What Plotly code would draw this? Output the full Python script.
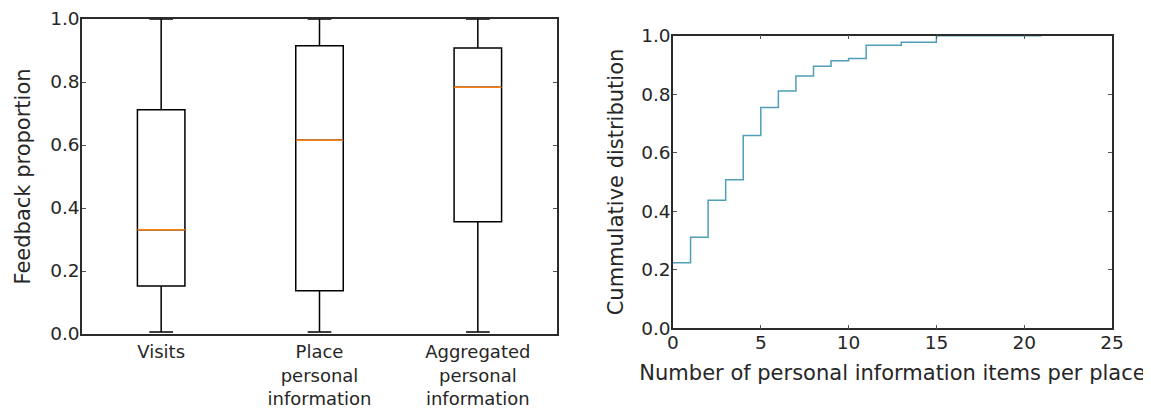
import plotly.graph_objects as go

# ---- Data: box plot (left) ----
categories = ["Visits", "Place<br>personal<br>information", "Aggregated<br>personal<br>information"]
q1_vals = [0.152, 0.137, 0.356]
median_vals = [0.331, 0.615, 0.783]
q3_vals = [0.712, 0.915, 0.908]
lower_vals = [0.006, 0.006, 0.006]
upper_vals = [1.0, 1.0, 1.0]

# ---- Data: cumulative distribution (right) ----
items_x = [0, 1, 2, 3, 4, 5, 6, 7, 8, 9, 10, 11, 13, 15, 21]
cdf_y = [0.224, 0.311, 0.438, 0.508, 0.659, 0.755, 0.811, 0.862, 0.896, 0.914, 0.922, 0.967, 0.978, 1.0, 1.0]

# page body has an 8px margin; figure sized to fit the 1151x411 window
OFF = 8
W, H = 1151 - OFF, 411 - OFF
FONT = "DejaVu Sans"
TXT = "#262626"
FRAME = "#2b2b2b"


def fx(px):
    return (px - OFF) / W


def fy(py):
    return 1 - (py - OFF) / H


fig = go.Figure()

fig.add_trace(go.Box(
    x=categories, q1=q1_vals, median=median_vals, q3=q3_vals,
    lowerfence=lower_vals, upperfence=upper_vals,
    width=0.3, whiskerwidth=0.5,
    line=dict(color="black", width=1.5), fillcolor="rgba(0,0,0,0)",
    xaxis="x", yaxis="y", showlegend=False, hoverinfo="skip",
))
fig.add_trace(go.Box(
    x=categories, q1=median_vals, median=median_vals, q3=median_vals,
    lowerfence=median_vals, upperfence=median_vals,
    width=0.3, whiskerwidth=0,
    line=dict(color="#ff7f0e", width=1.5), fillcolor="rgba(0,0,0,0)",
    xaxis="x", yaxis="y", showlegend=False, hoverinfo="skip",
))

fig.add_trace(go.Scatter(
    x=items_x, y=cdf_y, mode="lines", line=dict(shape="hv", color="#4f9fb8", width=1.5),
    xaxis="x2", yaxis="y2", showlegend=False, hoverinfo="skip",
))

axis_common = dict(
    showline=True, mirror="allticks", linecolor=FRAME, linewidth=1.5,
    showgrid=False, zeroline=False, ticklen=4, tickwidth=1, automargin=False,
    tickcolor="#555555", ticklabeloverflow="allow",
)
tick_font = dict(family=FONT, size=18.5, color=TXT)
title_font = dict(family=FONT, size=21, color=TXT)

fig.update_layout(
    width=W, height=H,
    margin=dict(l=0, r=0, t=0, b=0, autoexpand=False),
    paper_bgcolor="white", plot_bgcolor="white",
    boxmode="overlay",
    font=dict(family=FONT, color=TXT),
    xaxis=dict(
        domain=[fx(82), fx(557)], anchor="y", type="category",
        range=[-0.5, 2.5], ticklabelstandoff=1, ticks="",
        tickfont=dict(family=FONT, size=18, color=TXT), **axis_common,
    ),
    yaxis=dict(
        domain=[fy(334), fy(19)], anchor="x", range=[0, 1], dtick=0.2,
        tickformat=".1f", ticklabelstandoff=-3, ticks="inside", tickfont=tick_font,
        title=dict(text="Feedback proportion", font=title_font, standoff=14),
        **axis_common,
    ),
    xaxis2=dict(
        domain=[fx(673), fx(1112)], anchor="y2", range=[0, 25], dtick=5,
        ticklabelstandoff=-3, ticks="inside", tickfont=tick_font,
        title=dict(text="Number of personal information items per place", font=title_font, standoff=13),
        **axis_common,
    ),
    yaxis2=dict(
        domain=[fy(328.3), fy(35.7)], anchor="x2", range=[0, 1], dtick=0.2,
        tickformat=".1f", ticklabelstandoff=-3, ticks="inside", tickfont=tick_font,
        title=dict(text="Cummulative distribution", font=title_font, standoff=12),
        **axis_common,
    ),
)

fig.write_html("out.html")
